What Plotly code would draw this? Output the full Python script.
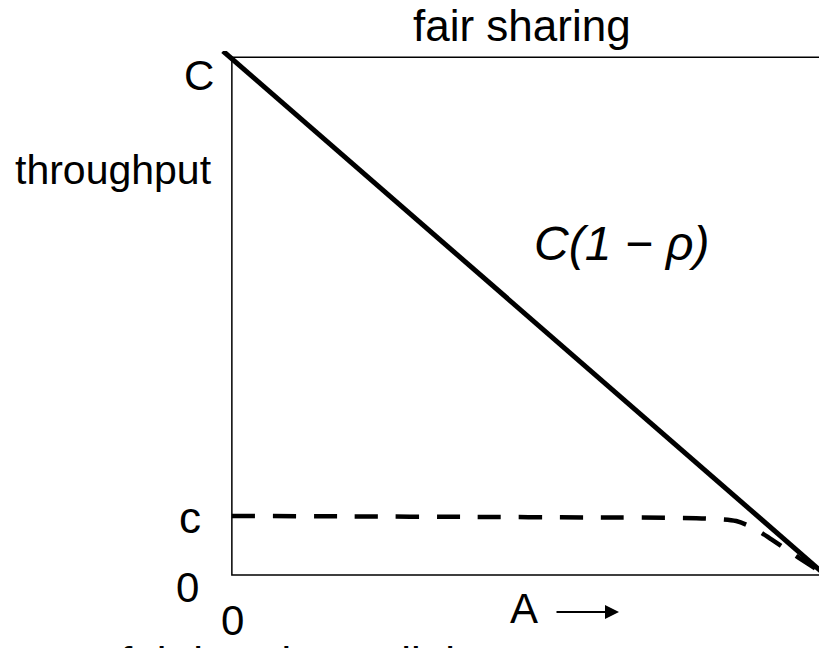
import plotly.graph_objects as go

# ---- data ----
solid_x = [-0.015, 1.0]
solid_y = [1.012, 0.0]

dash_x = [0.0, 0.2, 0.4, 0.6, 0.8, 0.85, 0.88, 0.91, 0.94, 0.97, 1.0]
dash_y = [0.114, 0.113, 0.112, 0.111, 0.109, 0.104, 0.090, 0.068, 0.045, 0.022, 0.0]

title_text = "fair sharing"
y_labels = ["C", "throughput", "c", "0"]
x_labels = ["0", "A"]
curve_label = "<i>C(1 − ρ)</i>"
bottom_text = "fair band on a link"

# page has an 8px body margin: figure drawn from screen (8, 8)
OFF = 8
W, H = 819, 640
L, R, T, B = 212, 0, 43, 70
XR = [-0.02, 1.003]
YR = [-0.006, 1.012]


def px(xs, ys):
    """screen pixel -> paper coordinates"""
    xf, yf = xs - OFF, ys - OFF
    return (xf - L) / (W - L - R), (H - B - yf) / (H - T - B)


FONT = "Liberation Sans, Arial, Helvetica, sans-serif"

fig = go.Figure()
fig.add_trace(go.Scatter(x=dash_x, y=dash_y, mode="lines",
                         line=dict(color="black", width=4.5, dash="23px,18px", shape="spline", smoothing=0.8),
                         hoverinfo="skip"))
fig.add_trace(go.Scatter(x=solid_x, y=solid_y, mode="lines",
                         line=dict(color="black", width=5), hoverinfo="skip"))

# box
fig.add_shape(type="rect", xref="x", yref="y", x0=0, x1=1, y0=0, y1=1,
              line=dict(color="black", width=1.5), layer="below")

anns = []


def lab(text, xs, ys, size, xanchor="center", yanchor="middle", font=FONT):
    x, y = px(xs, ys)
    anns.append(dict(text=text, x=x, y=y, xref="paper", yref="paper", showarrow=False,
                     xanchor=xanchor, yanchor=yanchor,
                     font=dict(size=size, color="black", family=font)))


lab(title_text, 522, 25, 44)
lab(y_labels[0], 199, 75, 42)
lab(y_labels[1], 113, 170, 41)
lab(y_labels[2], 190, 517, 44)
lab(y_labels[3], 187, 587, 42)
lab(x_labels[0], 232, 620, 42)
lab(x_labels[1], 524, 608, 42)
lab(curve_label, 622, 243, 48)
lab(bottom_text, 118, 636, 44, xanchor="left", yanchor="top")

# arrow after A
ax1, ay1 = px(619, 612)
anns.append(dict(x=ax1, y=ay1, ax=-64, ay=0, xref="paper", yref="paper",
                 axref="pixel", ayref="pixel", text="", showarrow=True,
                 arrowhead=2, arrowsize=1.4, arrowwidth=2, arrowcolor="black"))

fig.update_layout(
    width=W, height=H,
    margin=dict(l=L, r=R, t=T, b=B),
    paper_bgcolor="white", plot_bgcolor="white",
    showlegend=False,
    xaxis=dict(range=XR, visible=False, fixedrange=True),
    yaxis=dict(range=YR, visible=False, fixedrange=True),
    annotations=anns,
)

fig.write_html("out.html")
